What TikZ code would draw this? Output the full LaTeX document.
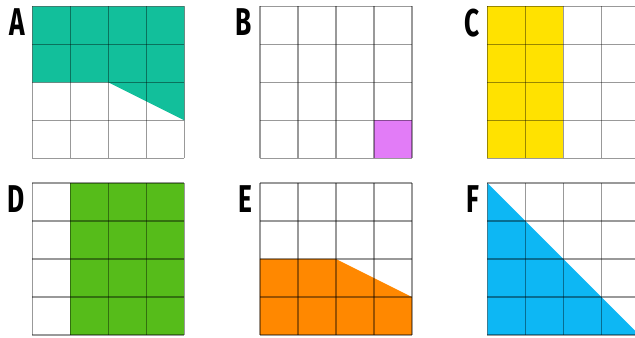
\documentclass[tikz,border=0pt]{standalone}
\usepackage{fontspec}
\setmainfont{Fira Sans}
\usetikzlibrary{positioning}
\definecolor{tealA}{HTML}{12BF9B}
\definecolor{pinkB}{HTML}{E27CF7}
\definecolor{yellowC}{HTML}{FFE200}
\definecolor{greenD}{HTML}{56BC1A}
\definecolor{orangeE}{HTML}{FF8800}
\definecolor{blueF}{HTML}{0DB7F4}
\tikzset{
  gridline/.style={draw=black,draw opacity=0.4,line width=0.95pt},
  letter/.style={anchor=north east,inner sep=0pt,font=\bfseries\fontsize{29}{29}\selectfont}
}
\newcommand{\cellgrid}{%
  \foreach \i in {0,...,4} {
    \draw[gridline] (\i,0) -- (\i,4);
    \draw[gridline] (0,\i) -- (4,\i);
  }}
\newcommand{\panelname}[2]{\node[letter] (#1) at (-0.2,3.95) {\scalebox{0.68}[1]{#2}};}

\begin{document}
\begin{tikzpicture}
  \useasboundingbox (0,0) rectangle (16.711,8.895);
  \clip (0,0) rectangle (16.711,8.895);

  % A
  \begin{scope}[shift={(0.855,4.724)}]
    \fill[tealA] (0,4) -- (4,4) -- (4,1) -- (2,2) -- (0,2) -- cycle;
    \cellgrid
    \panelname{labA}{A}
  \end{scope}

  % B
  \begin{scope}[shift={(6.842,4.724)}]
    \fill[pinkB] (3,0) rectangle (4,1);
    \cellgrid
    \panelname{labB}{B}
  \end{scope}

  % C
  \begin{scope}[shift={(12.829,4.724)}]
    \fill[yellowC] (0,0) rectangle (2,4);
    \cellgrid
    \panelname{labC}{C}
  \end{scope}

  % D
  \begin{scope}[shift={(0.855,0.079)}]
    \fill[greenD] (1,0) rectangle (4,4);
    \cellgrid
    \panelname{labD}{D}
  \end{scope}

  % E
  \begin{scope}[shift={(6.842,0.079)}]
    \fill[orangeE] (0,0) -- (4,0) -- (4,1) -- (2,2) -- (0,2) -- cycle;
    \cellgrid
    \panelname{labE}{E}
  \end{scope}

  % F
  \begin{scope}[shift={(12.829,0.079)}]
    \fill[blueF] (0,4) -- (0,0) -- (4,0) -- cycle;
    \cellgrid
    \panelname{labF}{F}
  \end{scope}
\end{tikzpicture}
\end{document}
